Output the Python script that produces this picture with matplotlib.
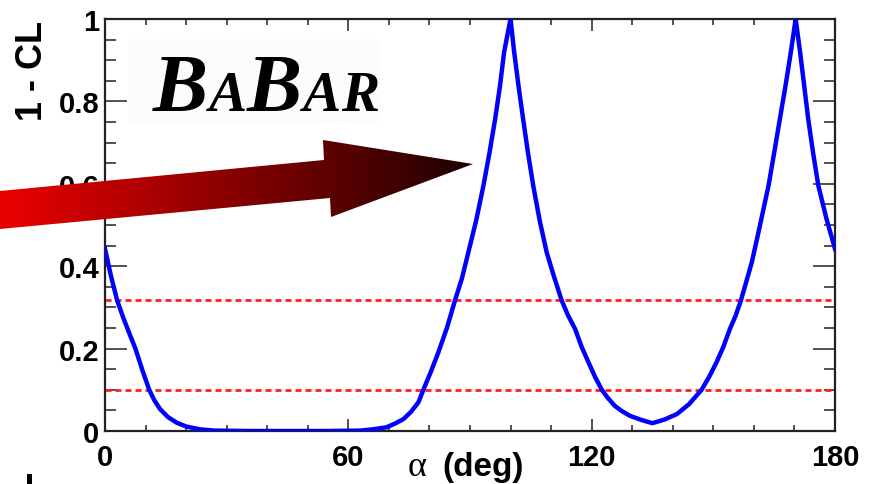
import numpy as np
import matplotlib
matplotlib.use('Agg')
import matplotlib.pyplot as plt
from matplotlib.patches import Polygon, Rectangle
from matplotlib.ticker import MultipleLocator, FixedLocator

# ---- data ----
alpha_deg = [0, 1.5, 3.0, 4.5, 6.0, 7.5, 9.2, 10.9, 12.2, 13.6, 15.5, 17.7, 20.0, 23.4,
             27, 35, 45, 55, 63, 66, 69.4, 71.5, 73.6, 75.5, 77.3, 78.5, 80.4,
             82.2, 84.3, 86.3, 88.0, 89.6, 91.5, 93.3, 94.8, 96.2, 97.4, 98.4, 99.2, 100.0,
             100.9, 102.0, 103.1, 104.3, 105.6, 107.2, 108.9, 110.7, 112.6, 114.2,
             115.9, 117.5, 119.2, 120.8, 122.5, 124.0, 125.7, 127.5, 129.4, 132.2,
             135.0, 138.0, 141.0, 144.0, 147.1, 149.0, 150.8, 152.5, 154.1, 155.5,
             156.8, 158.2, 159.5, 161.3, 163.6, 165.0, 166.4, 167.8, 169.1, 170.3,
             171.4, 172.4, 173.4, 174.6, 175.9, 177.9, 180.0]
one_minus_cl = [0.442, 0.375, 0.317, 0.275, 0.237, 0.2, 0.148, 0.1, 0.074, 0.053, 0.034, 0.02, 0.011, 0.004,
                0.001, 0.0, 0.0, 0.0, 0.001, 0.004, 0.009, 0.018, 0.029, 0.047, 0.07, 0.1, 0.145,
                0.191, 0.25, 0.317, 0.37, 0.434, 0.51, 0.595, 0.675, 0.757, 0.838, 0.919, 0.96, 1.0,
                0.919, 0.835, 0.757, 0.675, 0.595, 0.51, 0.434, 0.375, 0.317, 0.28,
                0.248, 0.205, 0.167, 0.132, 0.1, 0.08, 0.061, 0.048, 0.037, 0.027,
                0.019, 0.028, 0.041, 0.065, 0.1, 0.132, 0.167, 0.205, 0.248, 0.28,
                0.317, 0.365, 0.41, 0.49, 0.595, 0.675, 0.757, 0.838, 0.919, 1.0,
                0.919, 0.838, 0.757, 0.675, 0.595, 0.515, 0.442]
cl_levels = [0.317, 0.10]
xticks = [0, 60, 120, 180]
xticklabels = ['0', '60', '120', '180']
yticks = [0, 0.2, 0.4, 0.6, 0.8, 1.0]
yticklabels = ['0', '0.2', '0.4', '0.6', '0.8', '1']
logo_letters = ['B', 'A', 'B', 'A', 'R']
logo_sizes = [62, 43, 62, 43, 43]

W, H = 872, 485
SANS = 'Liberation Sans'
SERIF = 'Liberation Serif'

fig = plt.figure(figsize=(W / 100, H / 100), dpi=100)
ax = fig.add_axes([105 / W, (H - 432) / H, 730 / W, 412 / H])

ax.plot(alpha_deg, one_minus_cl, color='#0000ff', lw=3.2, solid_joinstyle='round', zorder=3)
for lev in cl_levels:
    ax.axhline(lev, color='#ff1f1f', lw=2.0, ls=(0, (2.16, 1.44)), zorder=2)

ax.set_xlim(0, 180)
ax.set_ylim(0, 1)
ax.xaxis.set_major_locator(FixedLocator(xticks))
ax.xaxis.set_minor_locator(MultipleLocator(10))
ax.yaxis.set_major_locator(FixedLocator(yticks))
ax.yaxis.set_minor_locator(MultipleLocator(0.05))
ax.set_xticklabels(xticklabels)
ax.set_yticklabels(yticklabels)
ax.tick_params(axis='both', which='both', direction='in', top=True, right=True,
               color='#333333', width=1.2)
ax.tick_params(axis='x', which='major', length=12 * 0.72, pad=9)
ax.tick_params(axis='x', which='minor', length=6 * 0.72)
ax.tick_params(axis='y', which='major', length=22 * 0.72, pad=4)
ax.tick_params(axis='y', which='minor', length=11 * 0.72)
for lab in ax.get_xticklabels() + ax.get_yticklabels():
    lab.set_fontfamily(SANS)
    lab.set_fontweight('bold')
    lab.set_fontsize(21)
for sp in ax.spines.values():
    sp.set_color('#222222')
    sp.set_linewidth(1.6)

# axis titles
fig.text(32 / W, 1 - 21 / H, '1 - CL', rotation=90, ha='center', va='top',
         fontsize=26, fontweight='bold', fontfamily=SANS)

# overlay in pixel coordinates for annotations
ov = fig.add_axes([0, 0, 1, 1], zorder=10)
ov.set_xlim(0, W)
ov.set_ylim(H, 0)
ov.axis('off')
ov.patch.set_alpha(0)

ov.text(408, 476, '\u03b1', fontsize=26, fontfamily=SERIF, va='baseline', ha='left')
ov.text(442, 476, '(deg)', fontsize=24, fontweight='bold', fontfamily=SANS,
        va='baseline', ha='left')

# BaBar logo: letters placed side by side to span the logo width
ov.add_patch(Rectangle((128, 40), 252, 83, facecolor='#fcfcfc', edgecolor='none', zorder=1))
renderer = fig.canvas.get_renderer()
x_start, x_end = 153, 378
objs = []
for ch, fs in zip(logo_letters, logo_sizes):
    tx = ov.text(0, 111, ch, fontsize=fs, fontfamily=SERIF, fontweight='bold',
                 fontstyle='italic', va='baseline', ha='left', zorder=2)
    objs.append(tx)
widths = [o.get_window_extent(renderer).width for o in objs]
total = sum(widths)
span = x_end - x_start
scale = min(1.0, span / total)
if scale < 1.0:
    for o, fs in zip(objs, logo_sizes):
        o.set_fontsize(fs * scale)
    widths = [o.get_window_extent(renderer).width for o in objs]
    total = sum(widths)
gap = max(0.5, (span - total) / (len(objs) - 1))
xpos = x_start
for o, w in zip(objs, widths):
    o.set_x(xpos)
    xpos += w + gap

# gradient arrow
verts = [(0, 192), (324, 161), (323, 141), (473, 165), (331, 218), (330, 199), (0, 230)]
poly = Polygon(verts, closed=True, facecolor='none', edgecolor='none')
ov.add_patch(poly)
t = np.linspace(0, 1, 512)
r = (236 - 206 * t) / 255.0
rgb = np.zeros((1, t.size, 3))
rgb[0, :, 0] = r
im = ov.imshow(rgb, extent=[0, 474, 231, 140], aspect='auto', interpolation='bilinear', zorder=5)
im.set_clip_path(poly)
ov.set_xlim(0, W)
ov.set_ylim(H, 0)

# stray mark at bottom-left edge
ov.add_patch(Rectangle((27, 475), 5, 12, facecolor='black', edgecolor='none'))

fig.savefig('out.png', dpi=100)
